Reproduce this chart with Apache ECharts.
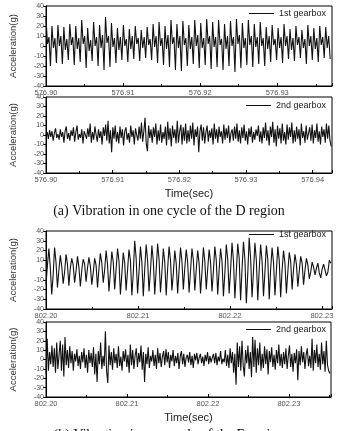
<!DOCTYPE html>
<html>
<head>
<meta charset="UTF-8">
<title>Gearbox vibration</title>
<script src="https://cdn.jsdelivr.net/npm/echarts@6/dist/echarts.min.js"></script>
<style>
    html,body{margin:0;padding:0;background:#fff;}
    #chart{width:338px;height:431px;}
</style>
</head>
<body>
<div id="chart"></div>
<script>
// (a) D region - sampled records, start time + sample step
var tStartD = 576.90;
var tEndD1 = 576.9371, tEndD2 = 576.9429;
var dt1D = 0.000193;
var dt2D = 0.000179;
var acc1D = [
    28,2,9,-20, 20,-2,8,-17, 21,0,10,-18, 19,-4,7,-14, 22,1,9,-19,
    20,-3,8,-16, 26,2,10,-22, 18,-5,6,-15, 24,0,9,-20, 21,-2,11,-24,
    29,3,10,-21, 23,-1,8,-17, 18,-4,9,-14, 21,0,7,-16, 17,-3,10,-13,
    20,2,8,-15, 16,-2,9,-12, 19,1,7,-14, 22,-1,10,-17, 24,0,8,-19,
    20,-3,11,-21, 26,2,9,-24, 22,-2,10,-25, 25,1,8,-20, 21,-3,9,-18,
    26,0,11,-22, 23,-2,8,-19, 27,2,10,-23, 24,-1,9,-21, 26,1,7,-24,
    22,-3,10,-20, 25,0,9,-26, 27,2,11,-22, 23,-2,8,-19, 26,1,10,-21,
    22,-1,9,-18, 24,0,8,-20, 19,-3,10,-16, 21,1,7,-14, 18,-2,9,-17,
    22,0,10,-13, 17,-4,8,-15, 20,1,9,-12, 16,-2,7,-18, 21,0,10,-14,
    18,-3,8,-16, 20,1,9,-12, 19,-2,10,-13
];
var acc2D = [
    0,3,-4,5,-2,4,-6,2,7,-3,
    1,-5,6,-2,3,-8,4,9,-4,2,
    -6,5,-1,8,-7,3,10,-5,1,-3,
    6,-9,4,2,-4,7,-2,12,-8,3,
    -5,9,0,-7,6,-3,4,-10,8,-1,
    11,-6,15,-9,5,-18,8,-4,10,-7,
    3,-9,9,-3,6,-11,4,8,-5,2,
    -8,10,-2,5,-10,7,0,-6,9,-4,
    13,-7,4,18,-9,-17,10,-3,6,-8,
    8,-2,12,-10,5,-6,11,-8,3,-4,
    9,-11,14,-5,7,-12,10,-3,6,-9,
    15,-8,4,11,-10,8,-6,12,-9,5,
    -7,10,-4,13,-11,6,-2,9,-18,4,
    11,-6,8,-9,3,10,-7,5,-3,7,
    -10,12,-4,6,-8,9,-2,4,-9,11,
    -5,7,-3,10,-8,2,6,-6,9,-4,
    12,-7,5,-9,8,-3,11,-6,4,-10,
    7,-2,9,-8,3,-5,6,-1,10,-7,
    4,-9,8,-3,13,-6,5,-11,9,-2,
    14,-8,6,-12,10,-4,7,-9,12,-6,
    3,-10,11,-5,8,-2,13,-9,5,-7,
    9,-4,6,-11,12,-3,4,-8,10,-5,
    2,8,-6,11,-9,5,-3,12,-7,4,
    -10,9,-2,6,-8,12,-4,10,-6,-12
];

// (b) E region
var tStartE = 802.20;
var tEndE1 = 802.2311, tEndE2 = 802.2352;
var dt1E = 0.0001556;
var dt2E = 0.0001467;
var acc1E = [
    -15,5,22,3, -25,-5,23,8, -18,0,15,4, -14,-2,16,6, -16,2,12,5,
    -13,-1,14,3, -17,0,11,6, -12,2,13,4, -15,-3,12,5, -18,1,17,7,
    -13,0,20,6, -22,-2,19,8, -20,1,22,9, -25,-4,18,7, -21,0,21,10,
    -26,-3,30,12, -24,-2,24,8, -27,1,26,10, -22,-1,25,9, -25,0,27,11,
    -23,-2,22,8, -26,1,24,10, -21,-3,20,7, -24,0,23,9, -20,2,21,8,
    -23,-1,22,10, -21,0,20,7, -24,-2,23,9, -20,1,21,8, -22,-1,24,10,
    -25,0,22,9, -27,-3,26,11, -24,0,28,10, -29,-2,27,12, -31,1,29,11,
    -34,-4,33,12, -28,-1,28,10, -31,0,26,9, -27,-2,25,11, -30,1,23,8,
    -26,-1,24,10, -28,0,20,7, -24,-2,18,9, -20,1,16,6, -17,-1,14,7,
    -15,0,12,5, -9,-2,8,3, -5,2,7,-3, -8,1,6,4, -6,-2,10,7
];
var acc2E = [
    -15,22,-12,8,-5,15,-8,12,-14,18,
    -10,5,20,-12,16,-18,24,-6,10,-9,
    14,-4,9,-12,6,-2,11,-7,4,-10,
    8,-3,12,-9,5,-14,10,-4,7,-8,
    13,-16,6,-24,9,-5,18,-10,4,-7,
    30,-12,-25,15,-6,8,-11,12,-4,6,
    -9,14,-7,3,-12,9,-2,11,-8,5,
    -14,16,-6,10,-10,4,12,-8,7,-3,
    15,-11,8,-24,6,-5,13,-9,4,-2,
    10,-7,5,-10,12,-4,7,-8,3,9,
    -6,11,-3,8,-9,5,-2,10,-7,4,
    -4,7,-10,3,9,-5,6,-8,2,5,
    -3,8,-6,4,-9,6,-1,7,-5,2,
    6,-4,3,-7,5,-2,8,-5,4,-3,
    2,6,-4,7,-6,3,-2,9,-5,1,
    -3,10,-7,5,-9,12,-4,8,-14,6,
    -27,18,-8,14,-12,20,-6,-18,10,-4,
    15,-10,8,-19,24,-8,21,-14,12,-6,
    18,-12,6,-9,14,-5,11,-16,9,-3,
    13,-8,5,-11,10,-4,16,-7,6,-9,
    8,-5,12,-10,4,15,-8,6,-13,7,
    -4,11,-22,9,-6,14,-3,8,-10,5,
    12,-7,4,-9,22,-12,10,-4,16,-8,
    6,-11,18,-5,9,-13,20,-6,-12,-15
];

var seriesNames = ['1st gearbox', '2nd gearbox'];
var captions = ['(a) Vibration in one cycle of the D region', '(b) Vibration in one cycle of the E region'];

function toXY(t0, dt, arr) {
    var out = [];
    for (var i = 0; i < arr.length; i++) {
        out.push([t0 + i * dt, arr[i]]);
    }
    return out;
}

var grids = [
    { left: 35, right: 6, top: 6,   height: 80 },
    { left: 35, right: 6, top: 97,  height: 76 },
    { left: 35, right: 6, top: 231, height: 78 },
    { left: 35, right: 7, top: 322, height: 75 }
];
grids.forEach(function (g) { g.show = true; g.borderColor = '#000'; g.borderWidth = 1; });

function timeLabel(v) {
    var r = Math.round(v * 100);
    if (Math.abs(v * 100 - r) > 1e-4) return '';
    return (r / 100).toFixed(2);
}

function makeX(idx, min, max, withName) {
    return {
        type: 'value', gridIndex: idx, min: min, max: max, interval: 0.01,
        name: withName ? 'Time(sec)' : '',
        nameLocation: 'middle', nameGap: 15,
        nameTextStyle: { fontSize: 11, color: '#222', fontFamily: 'Arial' },
        axisLine: { onZero: false, lineStyle: { color: '#000', width: 1 } },
        axisTick: { inside: true, length: 3, lineStyle: { color: '#000' } },
        minorTick: { show: true, splitNumber: 2, length: 2, lineStyle: { color: '#000' } },
        axisLabel: { fontSize: 7.5, color: '#555', margin: 3, formatter: timeLabel, showMaxLabel: false },
        splitLine: { show: false }
    };
}

function makeY(idx) {
    return {
        type: 'value', gridIndex: idx, min: -40, max: 40, interval: 10,
        name: 'Acceleration(g)', nameLocation: 'middle', nameGap: 28, nameRotate: 90,
        nameTextStyle: { fontSize: 9.5, color: '#333', fontFamily: 'Arial' },
        axisLine: { show: true, onZero: false, lineStyle: { color: '#000', width: 1 } },
        axisTick: { show: true, length: 3, lineStyle: { color: '#000' } },
        axisLabel: { fontSize: 7, color: '#555', margin: 2 },
        splitLine: { show: false }
    };
}

function makeLegend(name, top) {
    return {
        data: [name], right: 12, top: top, padding: 0,
        icon: 'rect', itemWidth: 25, itemHeight: 1,
        selectedMode: false,
        textStyle: { fontSize: 9, color: '#222', fontFamily: 'Arial' }
    };
}

function makeSeries(name, idx, data) {
    return {
        name: name, type: 'line', xAxisIndex: idx, yAxisIndex: idx,
        data: data, showSymbol: false, symbol: 'none',
        lineStyle: { color: '#111', width: 1.1 }, itemStyle: { color: '#111' }
    };
}

var myChart = echarts.init(document.getElementById('chart'));
var option = {
    animation: false,
    backgroundColor: '#fff',
    grid: grids,
    legend: [
        makeLegend(seriesNames[0], 9),
        makeLegend(seriesNames[1], 101),
        makeLegend(seriesNames[0], 230),
        makeLegend(seriesNames[1], 325)
    ],
    xAxis: [
        makeX(0, tStartD, tEndD1, false),
        makeX(1, tStartD, tEndD2, true),
        makeX(2, tStartE, tEndE1, false),
        makeX(3, tStartE, tEndE2, true)
    ],
    yAxis: [makeY(0), makeY(1), makeY(2), makeY(3)],
    series: [
        makeSeries(seriesNames[0], 0, toXY(tStartD, dt1D, acc1D)),
        makeSeries(seriesNames[1], 1, toXY(tStartD, dt2D, acc2D)),
        makeSeries(seriesNames[0], 2, toXY(tStartE, dt1E, acc1E)),
        makeSeries(seriesNames[1], 3, toXY(tStartE, dt2E, acc2E))
    ],
    graphic: [
        { type: 'text', left: 'center', top: 204,
          style: { text: captions[0], font: '14px "Liberation Serif"', fill: '#111' } },
        { type: 'text', left: 'center', top: 428,
          style: { text: captions[1], font: '14px "Liberation Serif"', fill: '#111' } }
    ]
};
myChart.setOption(option);
</script>
</body>
</html>
